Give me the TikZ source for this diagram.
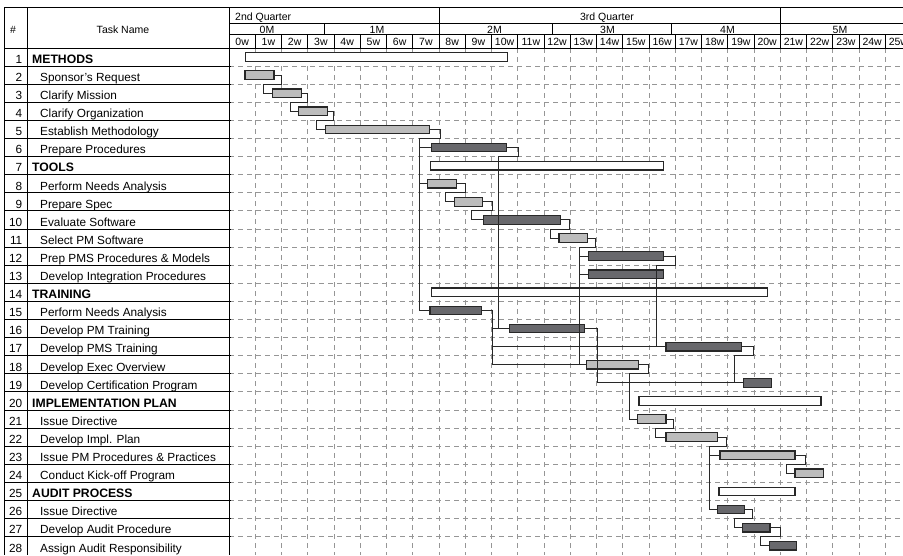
\documentclass[tikz,border=0pt]{standalone}
\usepackage{fontspec}
\setmainfont{Liberation Sans}
\usetikzlibrary{calc}
\definecolor{lightbar}{RGB}{188,188,188}
\definecolor{darkbar}{RGB}{104,104,108}
\definecolor{barline}{RGB}{40,40,40}
\definecolor{gridc}{RGB}{150,150,150}
\tikzset{
  frame/.style={line width=1pt, black},
  gridline/.style={gridc, line width=0.9pt, dash pattern=on 5pt off 4pt},
  barbase/.style={draw=barline, line width=1.2pt, minimum height=8.6pt, inner sep=0pt, outer sep=0pt, anchor=west},
  lbar/.style={barbase, fill=lightbar},
  dbar/.style={barbase, fill=darkbar},
  sbar/.style={barbase, fill=white},
  link/.style={barline, line width=1pt},
  hdr/.style={font=\fontsize{10.5}{11}\selectfont, inner sep=0pt, anchor=base},
  num/.style={font=\fontsize{11.8}{12}\selectfont, inner sep=0pt, anchor=base east},
  task/.style={font=\fontsize{11.8}{12}\selectfont, inner sep=0pt, anchor=base west},
  grp/.style={font=\fontsize{12.2}{12}\selectfont\bfseries, inner sep=0pt, anchor=base west},
}
\newcommand\mkbar[5]{\node[#5, minimum width={#4-#3}] (#1) at (#3,{#2-0.5}) {};}
\begin{document}
\begin{tikzpicture}[x=1pt,y=-1pt]
\useasboundingbox (0,0) rectangle (903,555);
\clip (0,0) rectangle (903,555);
% grid
\foreach \k in {1,...,27} \draw[gridline] (229,{48+18.1*\k}) -- (903,{48+18.1*\k});
\foreach \j in {1,...,25} \draw[gridline] ({229+26.25*\j},48) -- ({229+26.25*\j},555);
% frame
\draw[frame] (4,7) -- (903,7);
\draw[frame] (4,7) -- (4,555);
\draw[frame] (27,7) -- (27,555);
\draw[frame] (229,7) -- (229,555);
\draw[frame] (4,48) -- (903,48);
\draw[frame] (229,23) -- (903,23);
\draw[frame] (229,34) -- (903,34);
\draw[frame] (439,7) -- (439,48);
\draw[frame] (780.25,7) -- (780.25,48);
\foreach \m in {324.3,552,671.7} \draw[frame] (\m,23) -- (\m,34);
\foreach \j in {1,...,25} \draw[frame] ({229+26.25*\j},34) -- ({229+26.25*\j},48);
\foreach \k in {1,...,27} \draw[frame] (4,{48+18.1*\k}) -- (231,{48+18.1*\k});
% header texts
\node[hdr] (hnum) at (13,33) {\#};
\node[hdr] (htask) at (123,33) {Task Name};
\node[hdr, anchor=base west] (hq2) at (235,20) {2nd Quarter};
\node[hdr] (hq3) at (607,20) {3rd Quarter};
\foreach \m/\x in {0/267,1/377,2/494.5,3/607.5,4/727.5,5/840} \node[hdr] (hm\m) at (\x,33) {\m M};
\foreach \j in {0,...,25} \node[hdr] (hw\j) at ({229+26.25*(\j+0.5)},45) {\j w};
\begin{scope}[yshift=-48pt, y=-18.1pt]
% numbers
\foreach \k in {1,...,28} \node[num] (n\k) at (22.5,{\k-0.15}) {\k};
% task names
\foreach \k/\t in {1/METHODS,7/TOOLS,14/TRAINING,20/IMPLEMENTATION PLAN,25/AUDIT PROCESS}
  \node[grp] (t\k) at (32,{\k-0.15}) {\t};
\foreach \k/\t in {2/Sponsor's Request,3/Clarify Mission,4/Clarify Organization,5/Establish Methodology,6/Prepare Procedures,8/Perform Needs Analysis,9/Prepare Spec,10/Evaluate Software,11/Select PM Software,12/Prep PMS Procedures \& Models,13/Develop Integration Procedures,15/Perform Needs Analysis,16/Develop PM Training,17/Develop PMS Training,18/Develop Exec Overview,19/Develop Certification Program,21/Issue Directive,22/Develop Impl. Plan,23/Issue PM Procedures \& Practices,24/Conduct Kick-off Program,26/Issue Directive,27/Develop Audit Procedure,28/Assign Audit Responsibility}
  \node[task] (t\k) at (40,{\k-0.15}) {\t};
% bars
\mkbar{b1}{1}{245.7}{507.3}{sbar}
\mkbar{b2}{2}{245}{274}{lbar}
\mkbar{b3}{3}{272.7}{301.7}{lbar}
\mkbar{b4}{4}{298.3}{327.3}{lbar}
\mkbar{b5}{5}{325.3}{429.3}{lbar}
\mkbar{b6}{6}{431.7}{506.7}{dbar}
\mkbar{b7}{7}{430.7}{663.3}{sbar}
\mkbar{b8}{8}{427.3}{456.7}{lbar}
\mkbar{b9}{9}{454.3}{482.7}{lbar}
\mkbar{b10}{10}{483.3}{560.7}{dbar}
\mkbar{b11}{11}{559}{587.3}{lbar}
\mkbar{b12}{12}{588.3}{663.3}{dbar}
\mkbar{b13}{13}{588.3}{663.3}{dbar}
\mkbar{b14}{14}{431.7}{767.7}{sbar}
\mkbar{b15}{15}{430}{481.7}{dbar}
\mkbar{b16}{16}{509.3}{584.3}{dbar}
\mkbar{b17}{17}{666}{741.7}{dbar}
\mkbar{b18}{18}{586.7}{638.3}{lbar}
\mkbar{b19}{19}{743.3}{771.7}{dbar}
\mkbar{b20}{20}{639}{821}{sbar}
\mkbar{b21}{21}{637.7}{666}{lbar}
\mkbar{b22}{22}{666}{717.3}{lbar}
\mkbar{b23}{23}{720}{795}{lbar}
\mkbar{b24}{24}{795}{823.3}{lbar}
\mkbar{b25}{25}{719}{795}{sbar}
\mkbar{b26}{26}{717.3}{744.3}{dbar}
\mkbar{b27}{27}{742.7}{770}{dbar}
\mkbar{b28}{28}{769.3}{796.7}{dbar}
% links
\draw[link] (b2.east) -| (281.7,2) -| (263.3,2.5) -- (b3.west);
\draw[link] (b3.east) -| (307.7,3) -| (290.7,3.5) -- (b4.west);
\draw[link] (b4.east) -| (333.3,4) -| (316.7,4.5) -- (b5.west);
\draw[link] (b5.east) -| (440,5) -| (419.5,14.5) -- (b15.west);
\draw[link] (419.5,5.5) -- (b6.west);
\draw[link] (419.5,7.5) -- (b8.west);
\draw[link] (b6.east) -| (518.3,6) -| (498.3,15.5) -- (b16.west);
\draw[link] (b15.east) -| (492.7,17.5) -- (b18.west);
\draw[link] (492.7,15.5) -- (b16.west);
\draw[link] (492.7,16.5) -- (b17.west);
\draw[link] (b8.east) -| (465,8) -| (445.7,8.5) -- (b9.west);
\draw[link] (b9.east) -| (492.7,9) -| (471.7,9.5) -- (b10.west);
\draw[link] (b10.east) -| (569.3,10) -| (550.7,10.5) -- (b11.west);
\draw[link] (b11.east) -| (595.7,11) -| (579,17.5) -- (b18.west);
\draw[link] (579,11.5) -- (b12.west);
\draw[link] (579,12.5) -- (b13.west);
\draw[link] (b12.east) -| (675,12) -| (656,16.5) -- (b17.west);
\draw[link] (b16.east) -| (597.3,18.5) -- (b19.west);
\draw[link] (b17.east) -| (753.3,17) -| (734,18.5) -- (b19.west);
\draw[link] (b18.east) -| (648.3,18) -| (629.3,20.5) -- (b21.west);
\draw[link] (b21.east) -| (673.3,21) -| (655.7,21.5) -- (b22.west);
\draw[link] (b22.east) -| (726,22) -| (709.3,25.5) -- (b26.west);
\draw[link] (709.3,22.5) -- (b23.west);
\draw[link] (b23.east) -| (805.7,23) -| (786.7,23.5) -- (b24.west);
\draw[link] (b26.east) -| (752.7,26) -| (734.3,26.5) -- (b27.west);
\draw[link] (b27.east) -| (780.7,27) -| (760,27.5) -- (b28.west);
\end{scope}
\end{tikzpicture}
\end{document}
